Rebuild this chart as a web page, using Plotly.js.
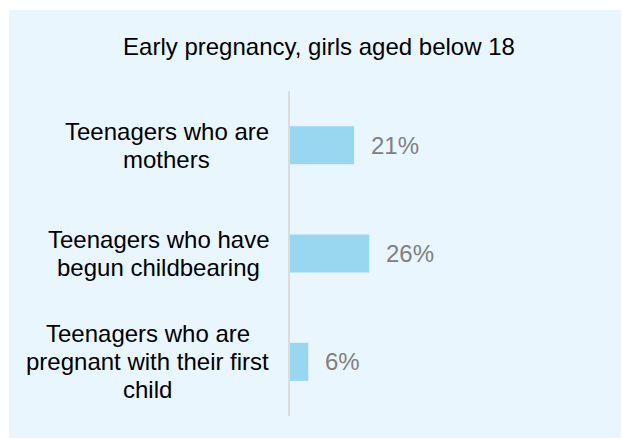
<!DOCTYPE html>
<html>
<head>
<meta charset="utf-8">
<script src="https://cdn.plot.ly/plotly-3.0.1.min.js"></script>
<style>
  html, body { margin: 0; padding: 0; background: #ffffff; }
  #chart { position: absolute; left: 9px; top: 10px; width: 612px; height: 428px; }
</style>
</head>
<body>
<div id="chart"></div>
<script>
const chartTitle = "Early pregnancy, girls aged below 18";
const categories = [
  "Teenagers who are<br>mothers",
  "Teenagers who have<br>begun childbearing",
  "Teenagers who are<br>pregnant with their first<br>child"
];
const values = [21, 26, 6];
const valueLabels = ["21%", "26%", "6%"];

const bg = "#EAF6FD";
const barColor = "#99D6F0";
const font = "'Liberation Sans', Arial, sans-serif";
const labelSize = 24;
const lineStep = 28;

const ids = categories.map((c, i) => "c" + i);

const trace = {
  type: "bar",
  orientation: "h",
  x: values,
  y: ids,
  marker: { color: barColor, line: { width: 0 } },
  hoverinfo: "skip"
};

// measure line widths so each multi-line label is a right-aligned block with centred lines
const ctx = document.createElement("canvas").getContext("2d");
ctx.font = labelSize + "px " + font;

const annotations = [];
categories.forEach((c, i) => {
  const lines = c.split("<br>");
  const maxW = Math.max(...lines.map(l => ctx.measureText(l).width));
  lines.forEach((line, j) => {
    annotations.push({
      xref: "paper", yref: "y",
      x: 0, y: ids[i],
      xanchor: "center", yanchor: "middle",
      xshift: -21 - maxW / 2,
      yshift: -(j - (lines.length - 1) / 2) * lineStep,
      text: line,
      showarrow: false,
      font: { family: font, size: labelSize, color: "#000000" }
    });
  });
  annotations.push({
    xref: "x", yref: "y",
    x: values[i], y: ids[i],
    xanchor: "left", yanchor: "middle",
    xshift: 15,
    text: valueLabels[i],
    showarrow: false,
    font: { family: font, size: labelSize, color: "#808080" }
  });
});

const layout = {
  width: 612,
  height: 428,
  paper_bgcolor: bg,
  plot_bgcolor: bg,
  margin: { l: 281, r: 26, t: 81, b: 22, pad: 0 },
  title: {
    text: chartTitle,
    x: 0.5065, xanchor: "center",
    y: 0.915, yanchor: "middle",
    xref: "container", yref: "container",
    font: { family: font, size: 24, color: "#000000" }
  },
  xaxis: {
    range: [0, 100],
    showgrid: false, zeroline: false, showline: false,
    showticklabels: false, ticks: ""
  },
  yaxis: {
    autorange: "reversed",
    showgrid: false, zeroline: false,
    showline: true, linecolor: "#DCDCDC", linewidth: 2,
    showticklabels: false, ticks: ""
  },
  bargap: 0.649,
  showlegend: false,
  annotations: annotations
};

Plotly.newPlot("chart", [trace], layout, { displayModeBar: false, staticPlot: true });
</script>
</body>
</html>
